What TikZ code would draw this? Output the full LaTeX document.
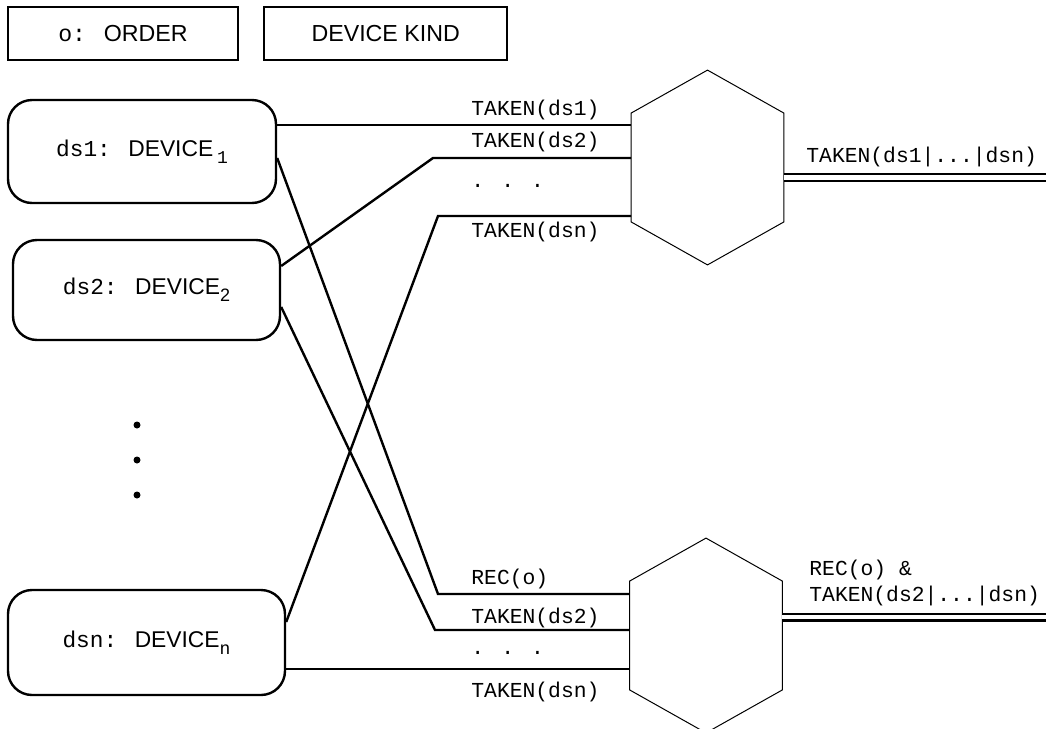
\documentclass[tikz,border=0pt]{standalone}
\usepackage{fontspec}
\setmainfont{Liberation Sans}
\newfontfamily\codefont{Liberation Mono}
\usetikzlibrary{positioning}

\newcommand{\devsub}[1]{\raisebox{-3.5pt}{\fontsize{9}{10}\selectfont #1}}

\begin{document}
\begin{tikzpicture}[x=0.5pt, y=-0.5pt,
squarednode/.style={rectangle, draw=black, line width=1.1pt, minimum height=26.5pt, inner sep=0pt, font=\fontsize{11.6}{14}\selectfont},
devicenode/.style={rectangle, rounded corners=12pt, draw=black, line width=1.2pt, minimum width=134pt, minimum height=51.5pt, inner sep=0pt, font=\fontsize{11.4}{14}\selectfont},
hexnode/.style={rectangle, minimum width=76pt, minimum height=54pt, inner sep=0pt},
wire/.style={line width=1.2pt},
outwire/.style={double, double distance=2.3pt, line width=1.1pt},
labeltext/.style={font=\codefont\fontsize{10.67}{13}\selectfont, anchor=base west, inner sep=0pt},
]
\useasboundingbox (0,0) rectangle (1046,729);

%Nodes
\node[squarednode, minimum width=115pt] at (123,33.5) (order) {{\codefont o:\ }\,ORDER};
\node[squarednode, minimum width=121.5pt] (devicekind) [right=12pt of order] {DEVICE KIND};

\node[devicenode] at (142,151.5) (ds1) {{\codefont ds1:\ }\,DEVICE\,\devsub{\codefont 1}};
\node[devicenode, minimum width=133.5pt, minimum height=50pt] at (146.5,290) (ds2) {{\codefont ds2:\ }\,DEVICE\devsub{2}};
\node[devicenode, minimum width=138.5pt, minimum height=52.5pt] at (146.5,642.5) (dsn) {{\codefont dsn:\ }\,DEVICE\devsub{\codefont n}};
\foreach \y in {425, 460, 495}\fill (137,\y) circle (1.75pt);

\node[hexnode] at (707.5,167.5) (hexT) {};
\node[hexnode] at (706,635.5) (hexB) {};

\node[labeltext] at (471,115) (takenone) {TAKEN(ds1)};
\node[labeltext] at (471,147) (takentwo) {TAKEN(ds2)};
\node[labeltext] at (471,187.5) (dotsT) {. . .};
\node[labeltext] at (471,237) (takenn) {TAKEN(dsn)};
\node[labeltext] at (806,162) (takenany) {TAKEN(ds1|...|dsn)};

\node[labeltext] at (471,584) (rec) {REC(o)};
\node[labeltext] at (471,623) (takentwoB) {TAKEN(ds2)};
\node[labeltext] at (471,654) (dotsB) {. . .};
\node[labeltext] at (471,697) (takennB) {TAKEN(dsn)};
\node[labeltext] at (809,575) (recand) {REC(o) \&};
\node[labeltext] at (809,601) (takenrest) {TAKEN(ds2|...|dsn)};

\coordinate (b2) at (433,158);
\coordinate (b3) at (438,216);
\coordinate (b4) at (438,594);
\coordinate (b5) at (435,630);
\coordinate (endT) at (1046,177.5);
\coordinate (endB) at (1046,617);

%Hexagons
\foreach \h in {hexT, hexB}
  \draw[line width=0.5pt] (\h.north west) -- ([yshift=21.5pt]\h.north) -- (\h.north east) -- (\h.south east) -- ([yshift=-21.5pt]\h.south) -- (\h.south west) -- cycle;

%Lines
\draw[wire] ([yshift=13.25pt]ds1.east) coordinate (d1) -- (hexT.west |- d1);
\draw[wire] ([yshift=12pt]ds2.east) -- (b2) -- (hexT.west |- b2);
\draw[wire] ([yshift=10.25pt]dsn.east) -- (b3) -- (hexT.west |- b3);
\draw[wire] ([yshift=-3.25pt]ds1.east) -- (b4) -- (hexB.west |- b4);
\draw[wire] ([yshift=-8.5pt]ds2.east) -- (b5) -- (hexB.west |- b5);
\draw[wire] ([yshift=-13.25pt]dsn.east) coordinate (d6) -- (hexB.west |- d6);
\draw[outwire] (hexT.east |- endT) -- (endT);
\draw[outwire] (hexB.east |- endB) -- (endB);

\end{tikzpicture}
\end{document}
